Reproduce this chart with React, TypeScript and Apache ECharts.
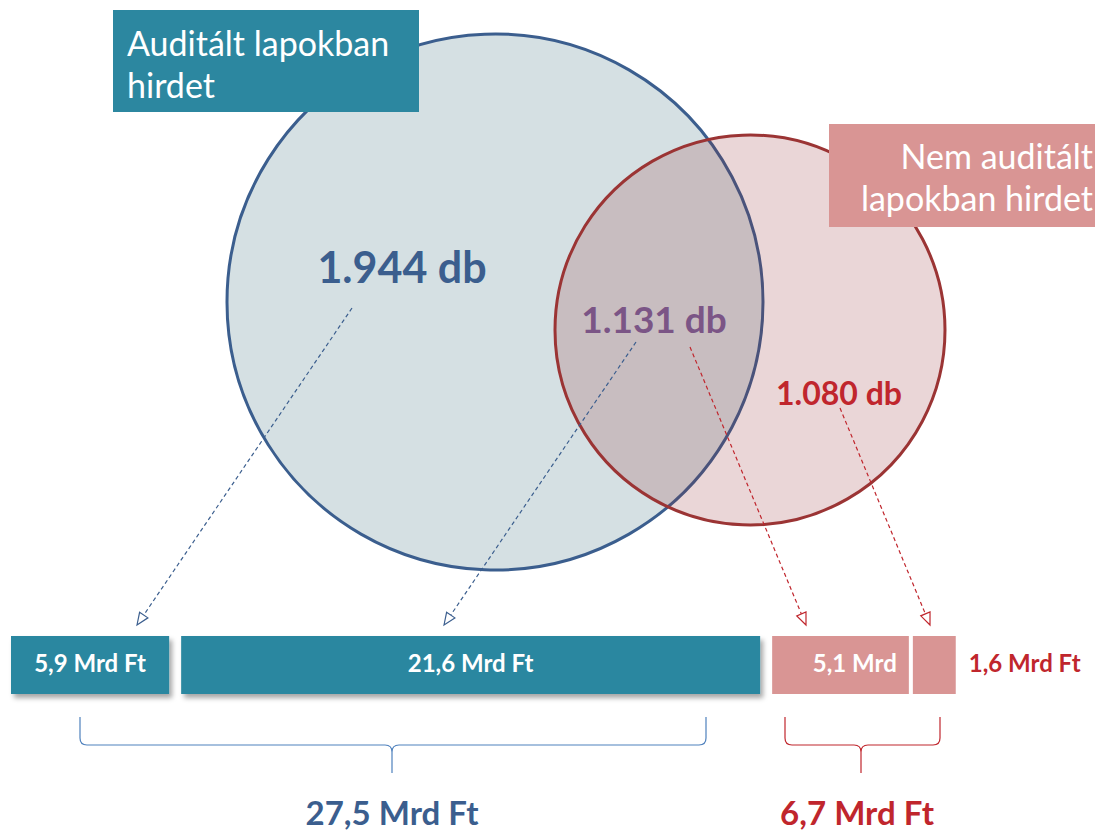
import React, { useEffect, useRef } from "react";
import * as echarts from "echarts";

// ---- data ----
const groupNames = ["Auditált lapokban hirdet", "Nem auditált lapokban hirdet"];
const groupLines = [["Auditált lapokban", "hirdet"], ["Nem auditált", "lapokban hirdet"]];
const countValues = [1944, 1131, 1080]; // only audited, both, only non-audited
const amountValues = [5.9, 21.6, 5.1, 1.6]; // Mrd Ft
const amountGroups = [0, 0, 1, 1];
const amountLabels = ["5,9 Mrd Ft", "21,6 Mrd Ft", "5,1 Mrd", "1,6 Mrd Ft"];

const FONT = "Lato, 'Noto Sans', sans-serif";
const TEAL = "#2c87a0";
const PINK = "#d99594";
const NAVY = "#3b5e8e";
const RED = "#c0262d";
const PURPLE = "#7b5586";

const fmtCount = (n: number) => String(n).replace(/\B(?=(\d{3})+(?!\d))/g, ".");
const fmtAmount = (n: number) => n.toFixed(1).replace(".", ",");

const gapOffsets = [0, 12, 24, 28];

function arrow(x1: number, y1: number, x2: number, y2: number, color: string) {
  const dx = x2 - x1, dy = y2 - y1;
  const len = Math.sqrt(dx * dx + dy * dy);
  const ux = dx / len, uy = dy / len;
  const L = 12, W = 5;
  const bx = x2 - ux * L, by = y2 - uy * L;
  const px = -uy, py = ux;
  return [
    {
      type: "line",
      shape: { x1, y1, x2: bx, y2: by },
      style: { stroke: color, lineWidth: 1.2, lineDash: [4, 3] },
      z: 20,
    },
    {
      type: "polygon",
      shape: { points: [[x2, y2], [bx + px * W, by + py * W], [bx - px * W, by - py * W]] },
      style: { fill: "#ffffff", stroke: color, lineWidth: 1.2 },
      z: 20,
    },
  ];
}

export default function App() {
  const ref = useRef<HTMLDivElement>(null);
  useEffect(() => {
    if (!ref.current) return;
    const chart = echarts.init(ref.current, undefined, { renderer: "svg" });

    echarts.graphic.registerShape(
      "braceBlue",
      echarts.graphic.extendPath(
        "M80,717 L80,738 Q80,745 87,745 L385,745 Q392,745 392,752 L392,773 M392,752 Q392,745 399,745 L699,745 Q706,745 706,738 L706,717",
        {}
      )
    );
    echarts.graphic.registerShape(
      "braceRed",
      echarts.graphic.extendPath(
        "M785,717 L785,738 Q785,745 792,745 L854,745 Q861,745 861,752 L861,773 M861,752 Q861,745 868,745 L933,745 Q940,745 940,738 L940,717",
        {}
      )
    );

    const starts: number[] = [];
    let acc = 0;
    amountValues.forEach((v) => {
      starts.push(acc);
      acc += v;
    });
    const barData = amountValues.map((v, i) => [starts[i], v, i]);

    const totals = [0, 1].map((g) =>
      amountValues.reduce((s, v, i) => (amountGroups[i] === g ? s + v : s), 0)
    );

    const graphic: any[] = [
      // blue circle
      {
        type: "circle",
        shape: { cx: 495, cy: 302, r: 268 },
        style: { fill: "#d5e0e3", stroke: NAVY, lineWidth: 3 },
        z: 1,
      },
      // red circle
      {
        type: "circle",
        shape: { cx: 750, cy: 330, r: 195 },
        style: { fill: "rgba(144,39,44,0.19)", stroke: "#9b3434", lineWidth: 3 },
        z: 2,
      },
      // title boxes
      { type: "rect", shape: { x: 113, y: 10, width: 306, height: 102 }, style: { fill: TEAL }, z: 5 },
      {
        type: "text",
        x: 127,
        y: 42,
        style: { text: groupLines[0][0], fill: "#fff", font: `34px ${FONT}`, textVerticalAlign: "middle" },
        z: 6,
      },
      {
        type: "text",
        x: 127,
        y: 84,
        style: { text: groupLines[0][1], fill: "#fff", font: `34px ${FONT}`, textVerticalAlign: "middle" },
        z: 6,
      },
      { type: "rect", shape: { x: 829, y: 124, width: 280, height: 103 }, style: { fill: PINK }, z: 5 },
      {
        type: "text",
        x: 1093,
        y: 155,
        style: { text: groupLines[1][0], fill: "#fff", font: `34px ${FONT}`, textAlign: "right", textVerticalAlign: "middle" },
        z: 6,
      },
      {
        type: "text",
        x: 1093,
        y: 197,
        style: { text: groupLines[1][1], fill: "#fff", font: `34px ${FONT}`, textAlign: "right", textVerticalAlign: "middle" },
        z: 6,
      },
      // count labels
      {
        type: "text",
        x: 402,
        y: 266,
        style: { text: fmtCount(countValues[0]) + " db", fill: NAVY, font: `bold 43px ${FONT}`, textAlign: "center", textVerticalAlign: "middle" },
        z: 10,
      },
      {
        type: "text",
        x: 654,
        y: 318,
        style: { text: fmtCount(countValues[1]) + " db", fill: PURPLE, font: `bold 37px ${FONT}`, textAlign: "center", textVerticalAlign: "middle" },
        z: 10,
      },
      {
        type: "text",
        x: 839,
        y: 392,
        style: { text: fmtCount(countValues[2]) + " db", fill: RED, font: `bold 32px ${FONT}`, textAlign: "center", textVerticalAlign: "middle" },
        z: 10,
      },
      ...arrow(352, 308, 137, 625, NAVY),
      ...arrow(636, 342, 444, 625, NAVY),
      ...arrow(690, 347, 806, 625, RED),
      ...arrow(840, 408, 930, 625, RED),
      // braces
      { type: "braceBlue", x: 0, y: 0, style: { fill: "none", stroke: "#4f81bd", lineWidth: 1.2 }, z: 5 },
      { type: "braceRed", x: 0, y: 0, style: { fill: "none", stroke: RED, lineWidth: 1.2 }, z: 5 },
      // totals
      {
        type: "text",
        x: 392,
        y: 812,
        style: { text: fmtAmount(totals[0]) + " Mrd Ft", fill: NAVY, font: `bold 33px ${FONT}`, textAlign: "center", textVerticalAlign: "middle" },
        z: 10,
      },
      {
        type: "text",
        x: 857,
        y: 812,
        style: { text: fmtAmount(totals[1]) + " Mrd Ft", fill: RED, font: `bold 33px ${FONT}`, textAlign: "center", textVerticalAlign: "middle" },
        z: 10,
      },
    ];

    chart.setOption({
      animation: false,
      backgroundColor: "#ffffff",
      grid: { left: 11, top: 636, width: 965, height: 58 },
      xAxis: { type: "value", min: 0, max: 36, show: false },
      yAxis: { type: "value", min: 0, max: 1, show: false },
      graphic,
      series: [
        {
          type: "custom",
          name: groupNames.join(" / "),
          data: barData,
          renderItem: (params: any, api: any) => {
            const i = api.value(2);
            const start = api.value(0);
            const val = api.value(1);
            const off = gapOffsets[i];
            const x0 = api.coord([start, 0])[0] + off;
            const x1 = api.coord([start + val, 0])[0] + off;
            const cs = params.coordSys;
            const y = cs.y, h = cs.height;
            const blue = amountGroups[i] === 0;
            const children: any[] = [
              {
                type: "rect",
                shape: { x: x0, y, width: x1 - x0, height: h },
                style: blue
                  ? { fill: TEAL, shadowBlur: 5, shadowOffsetX: 3, shadowOffsetY: 4, shadowColor: "rgba(0,0,0,0.35)" }
                  : { fill: PINK },
              },
            ];
            let tx = (x0 + x1) / 2, align = "center", color = "#fff";
            if (i === 2) {
              tx = x1 - 12;
              align = "right";
            } else if (i === 3) {
              tx = x1 + 13;
              align = "left";
              color = RED;
            }
            children.push({
              type: "text",
              x: tx,
              y: y + h / 2 - 3,
              style: {
                text: amountLabels[i],
                fill: color,
                font: `bold 24px ${FONT}`,
                textAlign: align,
                textVerticalAlign: "middle",
              },
            });
            return { type: "group", children };
          },
          z: 10,
        },
      ],
    });
    return () => chart.dispose();
  }, []);
  return <div ref={ref} style={{ position: "fixed", left: 0, top: 0, width: 1095, height: 831 }} />;
}
